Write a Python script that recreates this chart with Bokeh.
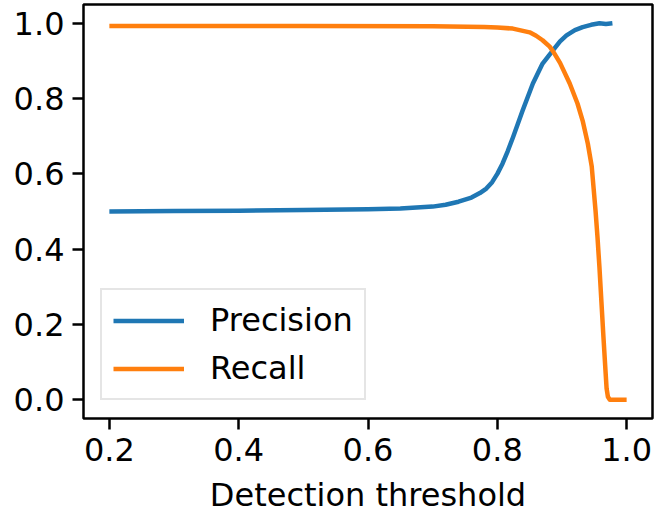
from bokeh.plotting import figure
from bokeh.models import Range1d, FixedTicker, NumeralTickFormatter, Legend, LegendItem
from bokeh.embed import file_html
from bokeh.resources import INLINE

# Data
prec_x = [0.2, 0.3, 0.4, 0.5, 0.6, 0.65, 0.7, 0.72, 0.74, 0.76, 0.773, 0.783, 0.792,
          0.80, 0.808, 0.816, 0.824, 0.839, 0.855, 0.870, 0.886, 0.897, 0.907, 0.92,
          0.932, 0.945, 0.958, 0.968, 0.978]
prec_y = [0.500, 0.501, 0.502, 0.504, 0.506, 0.508, 0.513, 0.518, 0.526, 0.537, 0.549,
          0.561, 0.578, 0.600, 0.627, 0.660, 0.696, 0.768, 0.84, 0.893, 0.928, 0.952,
          0.968, 0.982, 0.99, 0.996, 1.0, 0.998, 1.0]

rec_x = [0.2, 0.5, 0.7, 0.78, 0.80, 0.824, 0.85, 0.86, 0.870, 0.881, 0.886, 0.897,
         0.912, 0.924, 0.932, 0.940, 0.946, 0.949, 0.952, 0.955, 0.958, 0.961, 0.964,
         0.967, 0.969, 0.971, 0.974, 1.0]
rec_y = [0.993, 0.993, 0.992, 0.99, 0.989, 0.986, 0.976, 0.967, 0.955, 0.938, 0.926,
         0.895, 0.84, 0.787, 0.741, 0.68, 0.62, 0.56, 0.5, 0.43, 0.35, 0.26, 0.17,
         0.085, 0.03, 0.008, 0.0, 0.0]

x_ticks = [0.2, 0.4, 0.6, 0.8, 1.0]
y_ticks = [0.0, 0.2, 0.4, 0.6, 0.8, 1.0]
x_label = "Detection threshold"
series_names = ["Precision", "Recall"]
colors = ["#1f77b4", "#ff7f0e"]

FONT = "DejaVu Sans"
FS = "32px"

p = figure(width=658, height=526, output_backend="svg", toolbar_location=None,
           x_range=Range1d(0.16, 1.04), y_range=Range1d(-0.05, 1.05),
           min_border_left=83, min_border_right=6, min_border_top=4, min_border_bottom=108)

r1 = p.line(prec_x, prec_y, line_color=colors[0], line_width=4.5, line_join="round")
r2 = p.line(rec_x, rec_y, line_color=colors[1], line_width=4.5, line_join="round")

p.xgrid.visible = False
p.ygrid.visible = False
p.outline_line_color = "black"
p.outline_line_width = 2.5
p.outline_line_alpha = 1.0

for ax, ticks in ((p.xaxis[0], x_ticks), (p.yaxis[0], y_ticks)):
    ax.ticker = FixedTicker(ticks=ticks)
    ax.formatter = NumeralTickFormatter(format="0.0")
    ax.axis_line_color = None
    ax.major_tick_line_color = "black"
    ax.major_tick_line_width = 2.5
    ax.major_tick_out = 11
    ax.major_tick_in = 0
    ax.minor_tick_line_color = None
    ax.major_label_text_font = FONT
    ax.major_label_text_font_size = FS
    ax.major_label_text_color = "black"
    ax.major_label_standoff = 8

p.xaxis.axis_label = x_label
p.xaxis.axis_label_text_font = FONT
p.xaxis.axis_label_text_font_size = FS
p.xaxis.axis_label_text_font_style = "normal"
p.xaxis.axis_label_text_color = "black"
p.xaxis.axis_label_standoff = 12

legend = Legend(items=[LegendItem(label=series_names[0], renderers=[r1]),
                       LegendItem(label=series_names[1], renderers=[r2])],
                location=(17, 18), margin=0, padding=11, spacing=10,
                glyph_width=71, glyph_height=37, label_height=37, label_standoff=26,
                label_text_font=FONT, label_text_font_size=FS, label_text_color="black",
                border_line_color="#cccccc", border_line_width=2,
                background_fill_color="white", background_fill_alpha=0.8)
p.add_layout(legend, "center")

open("out.html", "w").write(file_html(p, INLINE))
